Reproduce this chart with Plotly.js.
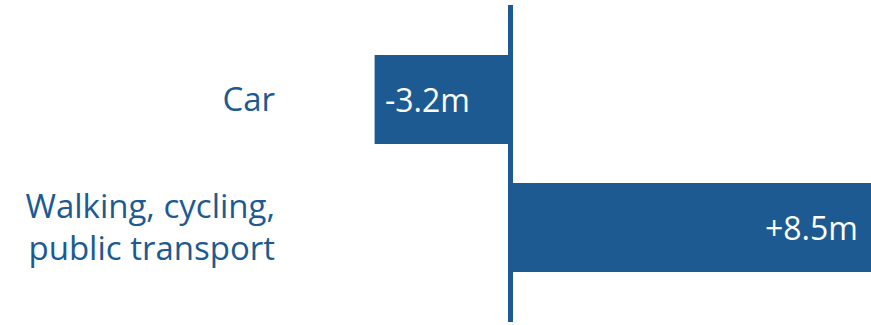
<!DOCTYPE html>
<html>
<head>
<meta charset="utf-8">
<script src="https://cdn.plot.ly/plotly-3.0.1.min.js"></script>
<style>html,body{margin:0;padding:0;background:#fff;}#chart{width:871px;height:325px;}</style>
</head>
<body>
<div id="chart"></div>
<script>
const categories = ["Car", "Walking, cycling,<br>public transport"];
const values = [-3.2, 8.5];
const valueLabels = ["-3.2m", "+8.5m"];

const blue = "#1c5a91";
const fontFam = "'Open Sans', sans-serif";

const trace = {
  type: "bar",
  orientation: "h",
  y: categories,
  x: values,
  width: 0.695,
  marker: { color: blue },
  hoverinfo: "none"
};

const annotations = values.map((v, i) => ({
  x: v,
  y: categories[i],
  xref: "x",
  yref: "y",
  text: valueLabels[i],
  showarrow: false,
  xanchor: v < 0 ? "left" : "right",
  xshift: v < 0 ? 8 : -11,
  font: { family: fontFam, size: 32, color: "#ffffff" }
}));

const leftPx = 276;

const layout = {
  width: 871,
  height: 325,
  margin: { l: leftPx, r: 0, t: 5, b: 3 },
  paper_bgcolor: "#ffffff",
  plot_bgcolor: "#ffffff",
  showlegend: false,
  xaxis: {
    range: [-(510.5 - leftPx) / 42.45, 8.5],
    showgrid: false,
    showticklabels: false,
    zeroline: true,
    zerolinecolor: blue,
    zerolinewidth: 5,
    showline: false,
    fixedrange: true
  },
  yaxis: {
    type: "category",
    categoryorder: "array",
    categoryarray: [categories[1], categories[0]],
    range: [-0.738, 1.738],
    showgrid: false,
    zeroline: false,
    showline: false,
    ticks: "",
    tickfont: { family: fontFam, size: 33, color: blue },
    fixedrange: true
  },
  annotations: annotations
};

Plotly.newPlot("chart", [trace], layout, { displayModeBar: false, staticPlot: true });
</script>
</body>
</html>
